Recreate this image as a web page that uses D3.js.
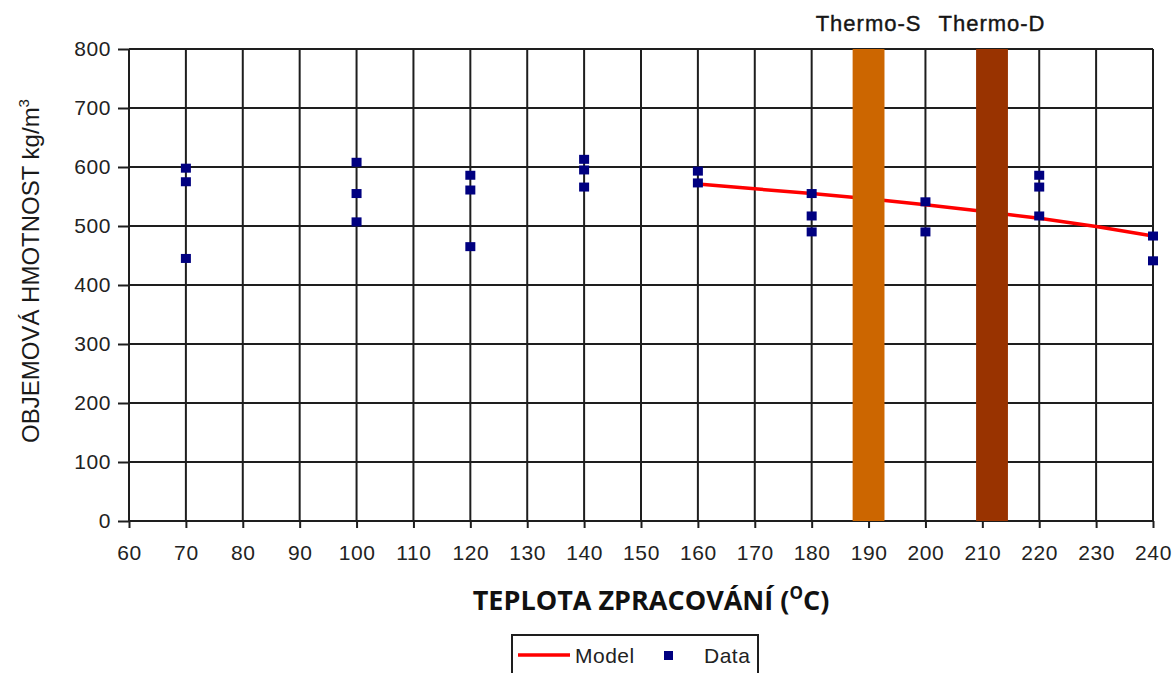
<!DOCTYPE html>
<html>
<head>
<meta charset="utf-8">
<script src="https://cdn.jsdelivr.net/npm/d3@7"></script>
<style>
  body { margin: 0; background: #fff; }
  svg { display: block; }
</style>
</head>
<body>
<div id="chart"></div>
<script>
// tick labels
const xTickValues = [60, 70, 80, 90, 100, 110, 120, 130, 140, 150, 160, 170, 180, 190, 200, 210, 220, 230, 240];
const yTickValues = [0, 100, 200, 300, 400, 500, 600, 700, 800];

// measured points (temperature, density)
const dataTemp = [70, 70, 70, 100, 100, 100, 120, 120, 120, 140, 140, 140, 160, 160, 180, 180, 180, 200, 200, 220, 220, 220, 240, 240];
const dataDensity = [598, 575, 445, 608, 555, 507, 586, 561, 465, 613, 595, 566, 593, 573, 555, 517, 490, 541, 490, 586, 566, 517, 483, 441];

// model curve
const modelTemp = [160, 170, 180, 190, 200, 210, 220, 230, 240];
const modelDensity = [571, 563, 555, 546, 536, 525, 513, 499, 483];

// process bands
const bandLabels = ['Thermo-S', 'Thermo-D'];
const bandFrom = [187.2, 208.9];
const bandTo = [192.8, 214.5];

const width = 1175;
const height = 673;
const margin = {top: 49, right: 22, bottom: 152, left: 129};
const innerWidth = width - margin.left - margin.right;
const innerHeight = height - margin.top - margin.bottom;

const svg = d3.select('#chart')
  .append('svg')
    .attr('width', width)
    .attr('height', height);

const x = d3.scaleLinear()
    .domain([60, 240])
    .range([margin.left, margin.left + innerWidth]);

const y = d3.scaleLinear()
    .domain([0, 800])
    .range([margin.top + innerHeight, margin.top]);

const bandColor = d3.scaleOrdinal()
    .domain(bandLabels)
    .range(['#cc6600', '#993300']);

const gridColor = '#1e1e1e';
const labelFont = 'Liberation Sans, Arial, sans-serif';

// grid
svg.append('g')
    .attr('stroke', gridColor)
    .attr('stroke-width', 2)
  .call(g => g.selectAll('.vgrid')
    .data(xTickValues)
    .join('line')
      .attr('class', 'vgrid')
      .attr('x1', d => x(d))
      .attr('x2', d => x(d))
      .attr('y1', y(800))
      .attr('y2', y(0)))
  .call(g => g.selectAll('.hgrid')
    .data(yTickValues)
    .join('line')
      .attr('class', 'hgrid')
      .attr('x1', x(60))
      .attr('x2', x(240))
      .attr('y1', d => y(d))
      .attr('y2', d => y(d)));

// axes
const xAxis = svg.append('g')
    .attr('transform', `translate(0,${y(0)})`)
    .call(d3.axisBottom(x).tickValues(xTickValues).tickSize(7).tickPadding(17));

const yAxis = svg.append('g')
    .attr('transform', `translate(${x(60)},0)`)
    .call(d3.axisLeft(y).tickValues(yTickValues).tickSize(11).tickPadding(7));

[xAxis, yAxis].forEach(a => {
  a.select('.domain').remove();
  a.selectAll('.tick line')
      .attr('stroke', gridColor)
      .attr('stroke-width', 2);
  a.selectAll('.tick text')
      .attr('fill', '#222')
      .style('font-family', labelFont)
      .style('font-size', '21px')
      .style('letter-spacing', '0.6px');
});

// model line
const line = d3.line()
    .x((d, i) => x(modelTemp[i]))
    .y(d => y(d));

svg.append('path')
    .datum(modelDensity)
    .attr('fill', 'none')
    .attr('stroke', '#ff0000')
    .attr('stroke-width', 3.5)
    .attr('d', line);

// data points
svg.append('g')
    .attr('fill', '#000080')
  .selectAll('rect')
  .data(dataDensity)
  .join('rect')
    .attr('x', (d, i) => x(dataTemp[i]) - 5)
    .attr('y', d => y(d) - 4.5)
    .attr('width', 10)
    .attr('height', 9);

// bands on top
const bands = svg.append('g')
  .selectAll('g')
  .data(bandLabels)
  .join('g');

bands.append('rect')
    .attr('x', (d, i) => x(bandFrom[i]))
    .attr('width', (d, i) => x(bandTo[i]) - x(bandFrom[i]))
    .attr('y', y(800))
    .attr('height', y(0) - y(800))
    .attr('fill', d => bandColor(d));

bands.append('text')
    .attr('x', (d, i) => x((bandFrom[i] + bandTo[i]) / 2))
    .attr('y', 31)
    .attr('text-anchor', 'middle')
    .attr('fill', '#161616')
    .style('font-family', labelFont)
    .style('font-size', '22px')
    .style('letter-spacing', '1px')
    .style('stroke', '#161616')
    .style('stroke-width', 0.4)
    .text(d => d);

// axis titles
svg.append('text')
    .attr('transform', `translate(39,${(447 + 95) / 2}) rotate(-90)`)
    .attr('text-anchor', 'middle')
    .attr('fill', '#1a1a1a')
    .style('font-family', labelFont)
    .style('font-size', '24px')
    .text('OBJEMOVÁ HMOTNOST kg/m')
  .append('tspan')
    .attr('dy', -10)
    .style('font-size', '15px')
    .text('3');

svg.append('text')
    .attr('x', 651)
    .attr('y', 610)
    .attr('text-anchor', 'middle')
    .attr('fill', '#111')
    .style('font-family', 'Open Sans')
    .style('font-weight', 700)
    .style('font-size', '27px')
    .call(t => t.append('tspan').text('TEPLOTA ZPRACOVÁNÍ ('))
    .call(t => t.append('tspan')
        .attr('dy', -11)
        .style('font-size', '17px')
        .text('O'))
    .call(t => t.append('tspan')
        .attr('dy', 11)
        .text('C)'));

// legend
const legend = svg.append('g');

legend.append('rect')
    .attr('x', 512)
    .attr('y', 635)
    .attr('width', 246)
    .attr('height', 50)
    .attr('fill', '#fff')
    .attr('stroke', gridColor)
    .attr('stroke-width', 2);

legend.append('line')
    .attr('x1', 518)
    .attr('x2', 570)
    .attr('y1', 655)
    .attr('y2', 655)
    .attr('stroke', '#ff0000')
    .attr('stroke-width', 3.5);

legend.append('text')
    .attr('x', 575)
    .attr('y', 663)
    .attr('fill', '#222')
    .style('font-family', labelFont)
    .style('font-size', '21px')
    .style('letter-spacing', '0.5px')
    .text('Model');

legend.append('rect')
    .attr('x', 664)
    .attr('y', 651)
    .attr('width', 9)
    .attr('height', 9)
    .attr('fill', '#000080');

legend.append('text')
    .attr('x', 704)
    .attr('y', 663)
    .attr('fill', '#222')
    .style('font-family', labelFont)
    .style('font-size', '21px')
    .style('letter-spacing', '0.5px')
    .text('Data');
</script>
</body>
</html>
